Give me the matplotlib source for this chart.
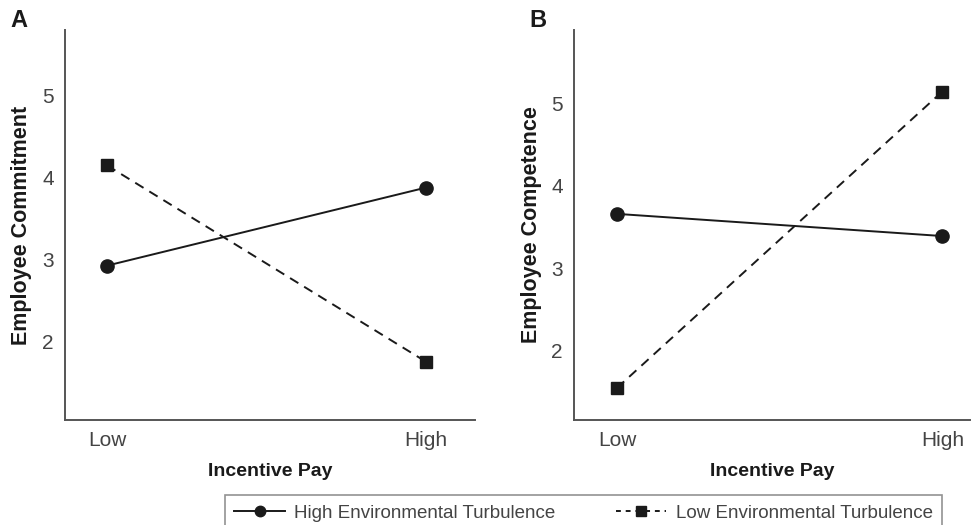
import matplotlib.pyplot as plt
from matplotlib.lines import Line2D

plt.rcParams['font.family'] = ['Liberation Sans', 'DejaVu Sans']

# data
pay_levels = ['Low', 'High']
commit_high_turb = [2.93, 3.88]
commit_low_turb = [4.15, 1.76]
compet_high_turb = [3.66, 3.39]
compet_low_turb = [1.54, 5.15]
y_ticks = [2, 3, 4, 5]

ink = '#1a1a1a'
axis_col = '#555555'
tick_col = '#444444'

fig = plt.figure(figsize=(9.72, 5.25), dpi=100)
axA = fig.add_axes([65/972, 0.2, 410/972, 0.743])
axB = fig.add_axes([574/972, 0.2, 396/972, 0.743])

panels = [
    (axA, commit_high_turb, commit_low_turb, 'Employee Commitment', (1.05, 5.8), (-0.132, 1.154)),
    (axB, compet_high_turb, compet_low_turb, 'Employee Competence', (1.15, 5.9), (-0.132, 1.085)),
]

for ax, hi, lo, ylab, ylim, xlim in panels:
    x = range(len(pay_levels))
    ax.plot(x, hi, '-', color=ink, lw=1.4, marker='o', ms=9.5, mfc=ink, mec=ink)
    ax.plot(x, lo, '--', color=ink, lw=1.4, marker='s', ms=8.5, mfc=ink, mec=ink,
            dashes=(5, 3.5))
    ax.set_xlim(*xlim)
    ax.set_ylim(*ylim)
    ax.set_xticks(list(x))
    ax.set_xticklabels(pay_levels)
    ax.set_yticks(y_ticks)
    ax.tick_params(length=0, labelsize=15, labelcolor=tick_col, pad=8)
    for s in ['top', 'right']:
        ax.spines[s].set_visible(False)
    for s in ['left', 'bottom']:
        ax.spines[s].set_color(axis_col)
        ax.spines[s].set_linewidth(1.4)
    ax.set_ylabel(ylab, fontsize=15.5, fontweight='bold', color=ink)
    ax.yaxis.set_label_coords(-0.08, 0.5)
    ax.set_xlabel('Incentive Pay', fontsize=14, fontweight='bold', color=ink, labelpad=9)

fig.text(10/972, 1 - 27/525, 'A', fontsize=17, fontweight='bold', color=ink)
fig.text(529/972, 1 - 27/525, 'B', fontsize=17, fontweight='bold', color=ink)

handles = [
    Line2D([], [], color=ink, lw=1.4, marker='o', ms=7.5, ls='-'),
    Line2D([], [], color=ink, lw=1.4, marker='s', ms=6.5, ls='--', dashes=(2.5, 2.5)),
]
labels = ['High Environmental Turbulence', 'Low Environmental Turbulence']
leg = fig.legend(handles, labels, loc='upper left', ncol=2, mode='expand',
                 bbox_to_anchor=(225/972, 1 - 495/525 - 0.01, 717/972, 0.01),
                 fontsize=13.5, frameon=True, fancybox=False, handlelength=2.7,
                 handletextpad=0.5, borderaxespad=0, borderpad=0.5)
leg.get_frame().set_edgecolor('#777777')
leg.get_frame().set_linewidth(1.2)
for t in leg.get_texts():
    t.set_color(tick_col)

fig.savefig('out.png', dpi=100)
